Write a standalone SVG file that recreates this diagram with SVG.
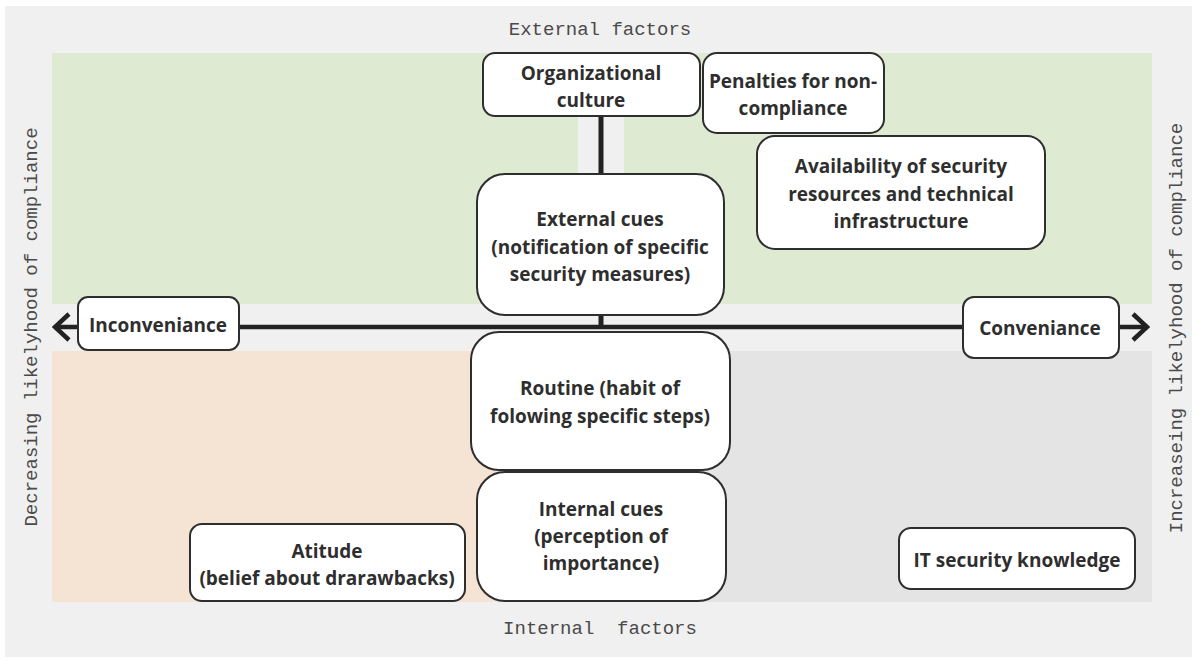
<svg xmlns="http://www.w3.org/2000/svg" width="1197" height="660" viewBox="0 0 1197 660">
<style>
.node rect{fill:#fff;stroke:#2e2e2e;stroke-width:2}
.node text{font-family:"Open Sans","Noto Sans",sans-serif;font-weight:700;font-size:19px;fill:#2e2e2e;text-anchor:middle}
.axis{font-family:"Liberation Mono",monospace;font-size:19px;fill:#4a4a4a;text-anchor:middle}
.conn{stroke:#222;fill:none}
</style>
<defs>
<marker id="chev" markerUnits="userSpaceOnUse" viewBox="0 0 20 30" refX="17" refY="15" markerWidth="20" markerHeight="30" orient="auto-start-reverse">
<path d="M3 2 L17 15 L3 28" fill="none" stroke="#222" stroke-width="4.5"/>
</marker>
</defs>
<rect x="0" y="0" width="1197" height="660" fill="#fff"/>
<rect x="5" y="6" width="1187" height="651" fill="#f0f0f0"/>
<g id="regions">
<rect x="52" y="53" width="526" height="251" fill="#dfead2"/>
<rect x="624" y="53" width="528" height="251" fill="#dfead2"/>
<rect x="52" y="351" width="550" height="251" fill="#f5e3d3"/>
<rect x="600" y="351" width="552" height="251" fill="#e4e4e4"/>
</g>
<g id="labels">
<text class="axis" x="600" y="35">External factors</text>
<text class="axis" x="600" y="634" xml:space="preserve">Internal  factors</text>
<text class="axis" transform="translate(37 327) rotate(-90)">Decreasing likelyhood of compliance</text>
<text class="axis" transform="translate(1182 328) rotate(-90)">Increaseing likelyhood of compliance</text>
</g>
<g id="connectors">
<line class="conn" x1="601" y1="116" x2="601" y2="327" stroke-width="5"/>
<line class="conn" x1="55" y1="327" x2="1147" y2="327" stroke-width="4.5" marker-start="url(#chev)" marker-end="url(#chev)"/>
</g>
<g id="org" class="node">
<rect x="483" y="53" width="217" height="63" rx="12"/>
<text x="591" y="80">Organizational</text>
<text x="591" y="107">culture</text>
</g>
<g id="penalties" class="node">
<rect x="703" y="53" width="181" height="80" rx="14"/>
<text x="793" y="88">Penalties for non-</text>
<text x="793" y="115">compliance</text>
</g>
<g id="availability" class="node">
<rect x="757" y="136" width="288" height="113" rx="18"/>
<text x="901" y="173">Availability of security</text>
<text x="901" y="201">resources and technical</text>
<text x="901" y="228">infrastructure</text>
</g>
<g id="external" class="node">
<rect x="477" y="174" width="247" height="141" rx="28"/>
<text x="600" y="226">External cues</text>
<text x="600" y="254">(notification of specific</text>
<text x="600" y="281">security measures)</text>
</g>
<g id="inconvenience" class="node">
<rect x="78" y="297" width="161" height="53" rx="10"/>
<text x="158" y="332">Inconveniance</text>
</g>
<g id="convenience" class="node">
<rect x="963" y="297" width="156" height="61" rx="11"/>
<text x="1040" y="335">Conveniance</text>
</g>
<g id="routine" class="node">
<rect x="471" y="332" width="259" height="138" rx="28"/>
<text x="600" y="395">Routine (habit of</text>
<text x="600" y="423">folowing specific steps)</text>
</g>
<g id="internal" class="node">
<rect x="477" y="472" width="249" height="129" rx="28"/>
<text x="601" y="516">Internal cues</text>
<text x="601" y="543">(perception of</text>
<text x="601" y="570">importance)</text>
</g>
<g id="attitude" class="node">
<rect x="190" y="524" width="275" height="77" rx="12"/>
<text x="327" y="558">Atitude</text>
<text x="327" y="585">(belief about drarawbacks)</text>
</g>
<g id="itknowledge" class="node">
<rect x="899" y="528" width="236" height="61" rx="12"/>
<text x="1017" y="567">IT security knowledge</text>
</g>
</svg>
